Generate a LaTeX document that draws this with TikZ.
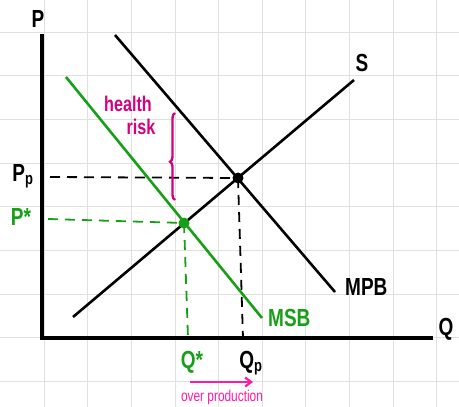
\documentclass[tikz,border=0pt]{standalone}
\usepackage{fontspec}
\setmainfont{Liberation Sans}
\usetikzlibrary{arrows.meta,decorations.pathreplacing}
\definecolor{grn}{HTML}{17A017}
\definecolor{mag}{HTML}{D4007F}
\definecolor{pnk}{HTML}{FF1AA8}
\definecolor{gridc}{HTML}{E0E0E0}
\newcommand{\tallt}[1]{\scalebox{1.0}[1.3]{#1}}
\tikzset{
  axisline/.style={line width=3.2pt,black},
  curve/.style={line width=2.6pt,black},
  gcurve/.style={line width=2.6pt,grn},
  bdash/.style={line width=1.8pt,black,dash pattern=on 10pt off 7pt},
  gdash/.style={line width=1.8pt,grn,dash pattern=on 10pt off 7pt},
  lbl/.style={font=\fontsize{19}{20}\selectfont\bfseries,inner sep=0pt},
  dot/.style={circle,inner sep=0pt,minimum size=11pt},
}
\begin{document}
\begin{tikzpicture}[x=1pt,y=-1pt]
\useasboundingbox (0,0) rectangle (459,407);
\fill[white] (0,0) rectangle (459,407);
% grid
\foreach \k in {1,...,10} {\draw[gridc,line width=1pt] ({0.4+43.65*\k},0) -- ({0.4+43.65*\k},407);}
\foreach \k in {0,...,8} {\draw[gridc,line width=1pt] (0,{32+43.7*\k}) -- (459,{32+43.7*\k});}
% axes
\coordinate (top) at (42,34);
\coordinate (orig) at (42,338);
\coordinate (right) at (433,338);
\draw[axisline,line join=miter] (top) -- (orig) -- (right);
\node[lbl] (P) at (38,19) {\tallt{P}};
\node[lbl] (Q) at (446,329) {\tallt{Q}};
% curves
\coordinate (mpbA) at (115,35);
\coordinate (mpbB) at (335,292);
\coordinate (sA) at (73,317);
\coordinate (sB) at (354,80);
\coordinate (msbA) at (66,77);
\coordinate (msbB) at (262,318);
\draw[curve] (mpbA) -- (mpbB);
\draw[curve] (sA) -- (sB);
\draw[gcurve] (msbA) -- (msbB);
\node[lbl] (S) at (362,63) {\tallt{S}};
\node[lbl,anchor=west] (MPB) at (345,287) {\tallt{MPB}};
\node[lbl,anchor=west,text=grn] (MSB) at (268,318) {\tallt{MSB}};
% equilibrium points
\node[dot,fill=black] (E1) at (238,178) {};
\node[dot,fill=grn] (E2) at (184,223) {};
% dashed guides
\coordinate (ppL) at (50,177);
\coordinate (psL) at (48,219);
\coordinate (qpB) at (243,338);
\coordinate (qsB) at (188,338);
\draw[bdash] (ppL) -- (E1.center);
\draw[bdash] (E1.center) -- (qpB);
\draw[gdash] (psL) -- (E2.center);
\draw[gdash] (E2.center) -- (qsB);
% axis labels
\node[lbl] (Pp) at (23,176) {\tallt{P\textsubscript{\fontsize{13}{13}\selectfont\bfseries p}}};
\node[lbl,text=grn] (Ps) at (21,217) {\tallt{P*}};
\node[lbl,text=grn] (Qs) at (192,362) {\tallt{Q*}};
\node[lbl] (Qp) at (251,363) {\tallt{Q\textsubscript{\fontsize{13}{13}\selectfont\bfseries p}}};
% health risk
\node[inner sep=0pt,text=mag,font=\fontsize{17}{18}\selectfont\bfseries] (hr1) at (128,104) {\scalebox{0.95}[1.25]{health}};
\node[inner sep=0pt,text=mag,font=\fontsize{17}{18}\selectfont\bfseries] (hr2) at (141,127) {\scalebox{0.95}[1.25]{risk}};
\coordinate (brT) at (175,113);
\coordinate (brB) at (175,200);
\draw[mag,line width=2.4pt,decorate,decoration={brace,amplitude=5pt,aspect=0.44}] (brB) -- (brT);
% over production
\coordinate (opA) at (190,382);
\coordinate (opB) at (253,382);
\draw[pnk,line width=2.2pt,-{Straight Barb[length=6pt,width=9pt]}] (opA) -- (opB);
\node[inner sep=0pt,text=pnk,font=\fontsize{12.5}{14}\selectfont] (op) at (222,397) {\scalebox{0.95}[1.25]{over production}};
\end{tikzpicture}
\end{document}
